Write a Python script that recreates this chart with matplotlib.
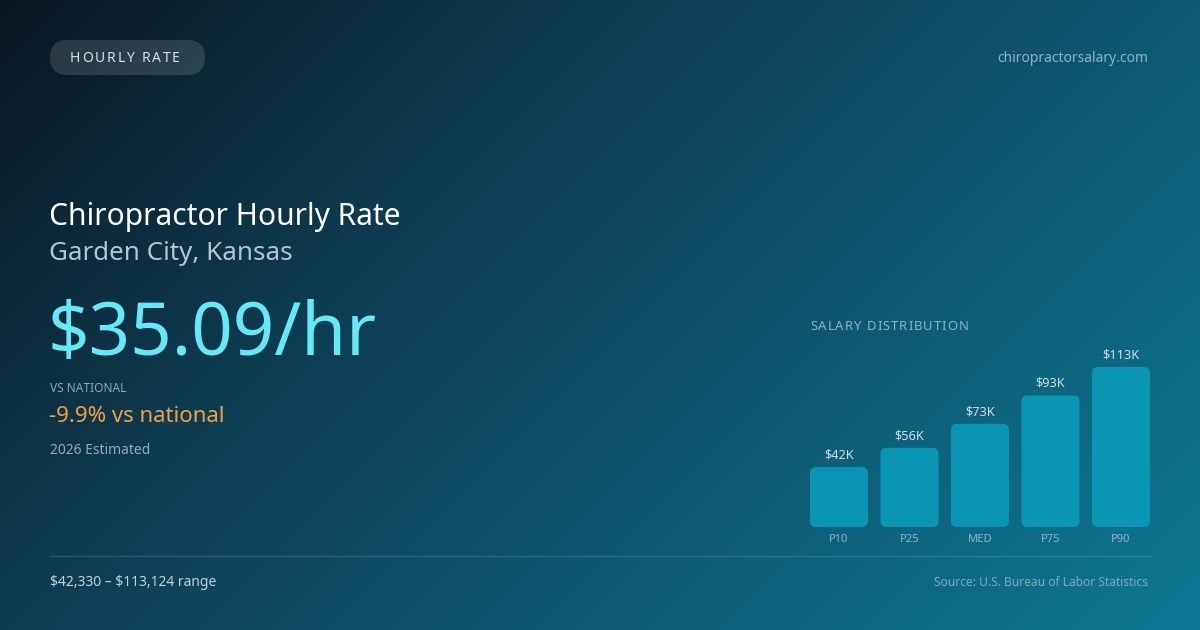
import numpy as np
import matplotlib
matplotlib.use("Agg")
import matplotlib.pyplot as plt
from matplotlib.patches import FancyBboxPatch
from matplotlib.colors import LinearSegmentedColormap
from matplotlib.textpath import TextToPath
from matplotlib.font_manager import FontProperties

plt.rcParams['font.family'] = ['Noto Sans', 'DejaVu Sans']
plt.rcParams['text.parse_math'] = False

# ---- data ----
categories = ["P10", "P25", "MED", "P75", "P90"]
salaries = [42330, 56000, 73000, 93000, 113124]
bar_labels = ["$42K", "$56K", "$73K", "$93K", "$113K"]
badge_text = "HOURLY RATE"
site_text = "chiropractorsalary.com"
title_text = "Chiropractor Hourly Rate"
location_text = "Garden City, Kansas"
rate_text = "$35.09/hr"
vs_label = "VS NATIONAL"
vs_text = "-9.9% vs national"
year_text = "2026 Estimated"
dist_title = "SALARY DISTRIBUTION"
range_text = "$42,330 \u2013 $113,124 range"
source_text = "Source: U.S. Bureau of Labor Statistics"

W, H = 1200, 630
fig = plt.figure(figsize=(W / 100, H / 100), dpi=100)

# ---- background gradient ----
bg = fig.add_axes([0, 0, 1, 1])
bg.set_xlim(0, W)
bg.set_ylim(H, 0)
bg.axis("off")
xx, yy = np.meshgrid(np.arange(W), np.arange(H))
t = (xx + yy) / (W + H)
cmap = LinearSegmentedColormap.from_list(
    "bg",
    [(0.0, (11/255, 22/255, 34/255)),
     (0.35, (14/255, 62/255, 82/255)),
     (0.7, (13/255, 94/255, 118/255)),
     (1.0, (14/255, 120/255, 148/255))])
bg.imshow(t, cmap=cmap, extent=(0, W, H, 0), aspect="auto", zorder=0, vmin=0, vmax=1)

t2p = TextToPath()


def spaced_text(ax, x, y, s, size, color, spacing):
    """Draw letter-spaced text, one glyph per text object (px coords)."""
    prop = FontProperties(family=plt.rcParams['font.family'], size=size)
    for ch in s:
        ax.text(x, y, ch, fontsize=size, color=color, ha="left", va="center", zorder=3)
        w, _, _ = t2p.get_text_width_height_descent(ch, prop, ismath=False)
        x += w * 100 / 72 + spacing


# ---- badge ----
pill = FancyBboxPatch((50, 40), 155, 35,
                      boxstyle="round,pad=0,rounding_size=17.5",
                      facecolor=(1, 1, 1, 0.13), edgecolor="none", zorder=1)
bg.add_patch(pill)
spaced_text(bg, 70, 58.5, badge_text, 10.0, "#d6e2ea", 1.8)

bg.text(1148, 59, site_text, fontsize=10.0, color="#8ab4c6", ha="right", va="center")

# ---- left texts ----
bg.text(49, 217, title_text, fontsize=21.6, color="#ffffff", ha="left", va="center")
bg.text(49, 254, location_text, fontsize=18.7, color="#b4c6d0", ha="left", va="center")
bg.text(47, 336, rate_text, fontsize=52.3, color="#67e8f9", ha="left", va="center")
bg.text(50, 388, vs_label, fontsize=8.6, color="#8ea7b5", ha="left", va="center")
bg.text(49, 416, vs_text, fontsize=16, color="#f0a04b", ha="left", va="center")
bg.text(50, 451, year_text, fontsize=10.0, color="#94aab8", ha="left", va="center")

# ---- footer ----
bg.plot([50, 1150], [556, 556], color=(1, 1, 1, 0.12), lw=1, zorder=1)
bg.text(50, 583, range_text, fontsize=10.0, color="#c2d2da", ha="left", va="center")
bg.text(1148, 583, source_text, fontsize=8.6, color="#7eaabd", ha="right", va="center")

# ---- distribution chart ----
spaced_text(bg, 810, 327, dist_title, 9.4, "#8cb6c6", 1.0)

left_px, right_px = 803.75, 1156.25
bottom_px, top_px = 527, 340
ax = fig.add_axes([left_px / W, 1 - bottom_px / H, (right_px - left_px) / W, (bottom_px - top_px) / H])
ax.set_facecolor("none")
ax.axis("off")
n = len(categories)
ax.set_xlim(-0.5, n - 0.5)
ymax = max(salaries) * (bottom_px - top_px) / 160.0
ax.set_ylim(0, ymax)

px_per_x = (right_px - left_px) / n
px_per_y = (bottom_px - top_px) / ymax
bw = 58 / px_per_x
r = 6 / px_per_x
for i, (v, lab, cat) in enumerate(zip(salaries, bar_labels, categories)):
    p = FancyBboxPatch((i - bw / 2, 0), bw, v,
                       boxstyle=f"round,pad=0,rounding_size={r}",
                       mutation_aspect=px_per_x / px_per_y,
                       facecolor="#0a9aba", edgecolor="none", alpha=0.92)
    ax.add_patch(p)
    ax.annotate(lab, (i, v), xytext=(0, 12), textcoords="offset pixels",
                ha="center", va="center", fontsize=9.2, color="#d0dee6")
    ax.annotate(cat, (i, 0), xytext=(0, -13), textcoords="offset pixels",
                ha="center", va="center", fontsize=8, color="#8fb8c8", annotation_clip=False)

fig.savefig("out.png", dpi=100)
